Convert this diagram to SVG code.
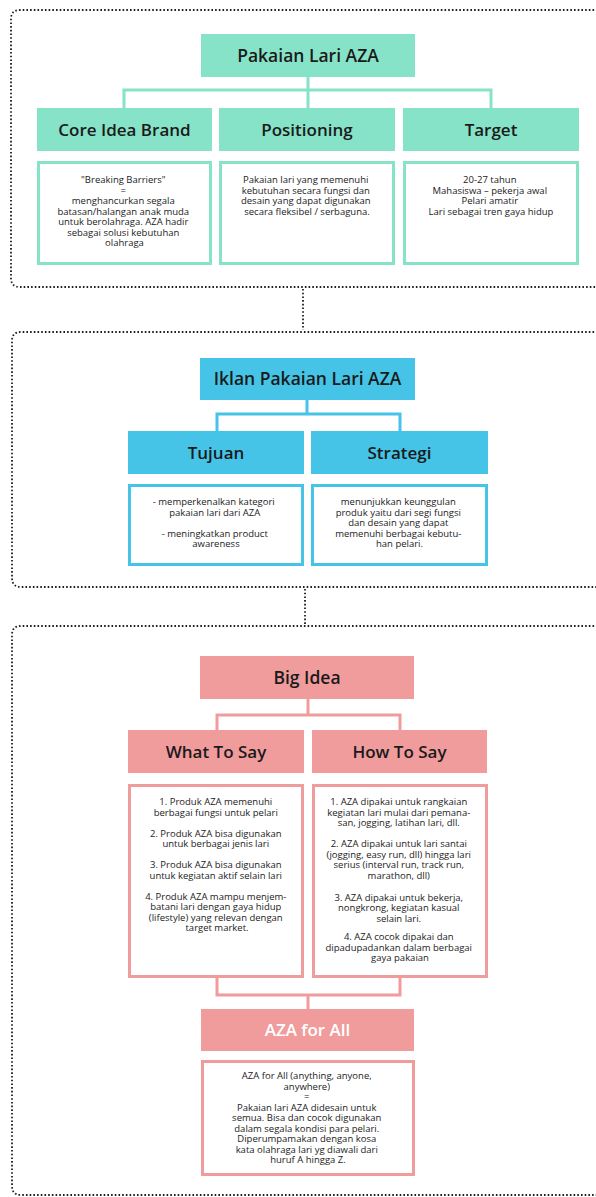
<svg xmlns="http://www.w3.org/2000/svg" width="596" height="1197" viewBox="0 0 596 1197">
  <style>
    .frame { fill: none; stroke: #1e1e1e; stroke-width: 1.8; stroke-dasharray: 1.6 2.1; }
    .mint { fill: #86e3c8; }
    .blue { fill: #45c4e7; }
    .pink { fill: #f19c9c; }
    .box-mint { fill: #fff; stroke: #86e3c8; stroke-width: 3; }
    .box-blue { fill: #fff; stroke: #45c4e7; stroke-width: 3; }
    .box-pink { fill: #fff; stroke: #f19c9c; stroke-width: 3; }
    .ln-mint { fill: none; stroke: #86e3c8; stroke-width: 3; }
    .ln-blue { fill: none; stroke: #45c4e7; stroke-width: 3; }
    .ln-pink { fill: none; stroke: #f19c9c; stroke-width: 3; }
    .head { font-family: "Open Sans", "Liberation Sans", sans-serif; font-weight: 600; font-size: 17px; fill: #1a1a1a; text-anchor: middle; }
    .title { font-size: 17.5px; }
    .light { fill: #ffffff; }
    .body { font-family: "Open Sans", "Liberation Sans", sans-serif; font-weight: 500; font-size: 9.5px; fill: #222; text-anchor: middle; }
  </style>

  <!-- dotted section frames, open on the right side -->
  <g id="frames">
    <path class="frame" d="M 620 10 H 20 Q 11 10 11 19 V 278 Q 11 287 20 287 H 620"/>
    <path class="frame" d="M 620 332 H 21 Q 12 332 12 341 V 578 Q 12 587 21 587 H 620"/>
    <path class="frame" d="M 620 626 H 21 Q 12 626 12 635 V 1186 Q 12 1195 21 1195 H 620"/>
    <path class="frame" d="M 303 289 V 330"/>
    <path class="frame" d="M 305 589 V 624"/>
  </g>

  <!-- connectors -->
  <g id="connectors">
    <path class="ln-mint" d="M 308 77 V 90 M 124 108 V 90 H 491 V 108 M 308 90 V 108"/>
    <path class="ln-blue" d="M 307 400 V 414 M 217 431 V 414 H 400 V 431"/>
    <path class="ln-pink" d="M 308 699 V 715 M 217 730 V 715 H 400 V 730"/>
    <path class="ln-pink" d="M 217 978 V 995 H 400 V 978 M 308 995 V 1009"/>
  </g>

  <!-- section 1 -->
  <g id="pakaian-lari-aza">
    <rect class="mint" x="201" y="34" width="214" height="43"/>
    <text class="head title" x="308" y="61.5">Pakaian Lari AZA</text>
  </g>
  <g id="core-idea-brand">
    <rect class="mint" x="37" y="108" width="175" height="43"/>
    <text class="head" x="124.5" y="135.5">Core Idea Brand</text>
  </g>
  <g id="positioning">
    <rect class="mint" x="219" y="108" width="176" height="43"/>
    <text class="head" x="307" y="135.5">Positioning</text>
  </g>
  <g id="target">
    <rect class="mint" x="403" y="108" width="176" height="43"/>
    <text class="head" x="491" y="135.5">Target</text>
  </g>
  <g id="core-idea-text">
    <rect class="box-mint" x="38.5" y="162.5" width="172" height="101"/>
    <text class="body" x="124.5">
      <tspan x="124.5" y="183">"Breaking Barriers"</tspan>
      <tspan x="124.5" y="193.5">=</tspan>
      <tspan x="124.5" y="204">menghancurkan segala</tspan>
      <tspan x="124.5" y="214.5">batasan/halangan anak muda</tspan>
      <tspan x="124.5" y="225">untuk berolahraga. AZA hadir</tspan>
      <tspan x="124.5" y="235.5">sebagai solusi kebutuhan</tspan>
      <tspan x="124.5" y="246">olahraga</tspan>
    </text>
  </g>
  <g id="positioning-text">
    <rect class="box-mint" x="220.5" y="162.5" width="173" height="101"/>
    <text class="body">
      <tspan x="307" y="183">Pakaian lari yang memenuhi</tspan>
      <tspan x="307" y="193.5">kebutuhan secara fungsi dan</tspan>
      <tspan x="307" y="204">desain yang dapat digunakan</tspan>
      <tspan x="307" y="214.5">secara fleksibel / serbaguna.</tspan>
    </text>
  </g>
  <g id="target-text">
    <rect class="box-mint" x="404.5" y="162.5" width="173" height="101"/>
    <text class="body">
      <tspan x="491" y="183">20-27 tahun</tspan>
      <tspan x="491" y="193.5">Mahasiswa – pekerja awal</tspan>
      <tspan x="491" y="204">Pelari amatir</tspan>
      <tspan x="491" y="214.5">Lari sebagai tren gaya hidup</tspan>
    </text>
  </g>

  <!-- section 2 -->
  <g id="iklan-pakaian-lari-aza">
    <rect class="blue" x="200" y="358" width="215" height="42"/>
    <text class="head title" x="307.5" y="385">Iklan Pakaian Lari AZA</text>
  </g>
  <g id="tujuan">
    <rect class="blue" x="128" y="431" width="176" height="43"/>
    <text class="head" x="216" y="458.5">Tujuan</text>
  </g>
  <g id="strategi">
    <rect class="blue" x="311" y="431" width="177" height="43"/>
    <text class="head" x="399.5" y="458.5">Strategi</text>
  </g>
  <g id="tujuan-text">
    <rect class="box-blue" x="129.5" y="485.5" width="173" height="79"/>
    <text class="body">
      <tspan x="215" y="505">- memperkenalkan kategori</tspan>
      <tspan x="216" y="515.5">pakaian lari dari AZA</tspan>
      <tspan x="216" y="536.5">- meningkatkan product</tspan>
      <tspan x="216" y="547">awareness</tspan>
    </text>
  </g>
  <g id="strategi-text">
    <rect class="box-blue" x="312.5" y="485.5" width="174" height="79"/>
    <text class="body">
      <tspan x="399.5" y="505">menunjukkan keunggulan</tspan>
      <tspan x="399.5" y="515.5">produk yaitu dari segi fungsi</tspan>
      <tspan x="399.5" y="526">dan desain yang dapat</tspan>
      <tspan x="399.5" y="536.5">memenuhi berbagai kebutu-</tspan>
      <tspan x="399.5" y="547">han pelari.</tspan>
    </text>
  </g>

  <!-- section 3 -->
  <g id="big-idea">
    <rect class="pink" x="200" y="656" width="214" height="43"/>
    <text class="head title" x="307" y="683.5">Big Idea</text>
  </g>
  <g id="what-to-say">
    <rect class="pink" x="128" y="730" width="176" height="43"/>
    <text class="head" x="216" y="757.5">What To Say</text>
  </g>
  <g id="how-to-say">
    <rect class="pink" x="312" y="730" width="175" height="43"/>
    <text class="head" x="399.5" y="757.5">How To Say</text>
  </g>
  <g id="what-to-say-text">
    <rect class="box-pink" x="129.5" y="785.5" width="173" height="191"/>
    <text class="body">
      <tspan x="217" y="805">1. Produk AZA  memenuhi</tspan>
      <tspan x="217" y="815.5">berbagai fungsi untuk pelari</tspan>
      <tspan x="217" y="836.5">2. Produk AZA bisa digunakan</tspan>
      <tspan x="217" y="847">untuk berbagai jenis lari</tspan>
      <tspan x="217" y="868">3. Produk AZA bisa digunakan</tspan>
      <tspan x="217" y="878.5">untuk kegiatan aktif selain lari</tspan>
      <tspan x="217" y="899.5">4. Produk AZA mampu menjem-</tspan>
      <tspan x="217" y="910">batani lari dengan gaya hidup</tspan>
      <tspan x="217" y="920.5">(lifestyle) yang relevan dengan</tspan>
      <tspan x="217" y="931">target market.</tspan>
    </text>
  </g>
  <g id="how-to-say-text">
    <rect class="box-pink" x="313.5" y="785.5" width="173" height="191"/>
    <text class="body">
      <tspan x="400" y="805">1. AZA dipakai untuk rangkaian</tspan>
      <tspan x="400" y="815.5">kegiatan lari mulai dari pemana-</tspan>
      <tspan x="400" y="826">san, jogging, latihan lari, dll.</tspan>
      <tspan x="400" y="847">2. AZA dipakai untuk lari santai</tspan>
      <tspan x="400" y="857.5">(jogging, easy run, dll) hingga lari</tspan>
      <tspan x="400" y="868">serius (interval run, track run,</tspan>
      <tspan x="400" y="878.5">marathon, dll)</tspan>
      <tspan x="400" y="900.5">3. AZA dipakai untuk bekerja,</tspan>
      <tspan x="400" y="911">nongkrong, kegiatan kasual</tspan>
      <tspan x="400" y="921.5">selain lari.</tspan>
      <tspan x="400" y="940">4. AZA cocok dipakai dan</tspan>
      <tspan x="400" y="950.5">dipadupadankan dalam berbagai</tspan>
      <tspan x="400" y="961">gaya pakaian</tspan>
    </text>
  </g>
  <g id="aza-for-all">
    <rect class="pink" x="201" y="1009" width="213" height="42"/>
    <text class="head light" x="307.5" y="1036">AZA for All</text>
  </g>
  <g id="aza-for-all-text">
    <rect class="box-pink" x="202.5" y="1061.5" width="211" height="113"/>
    <text class="body">
      <tspan x="308" y="1079">AZA for All (anything, anyone,</tspan>
      <tspan x="308" y="1089.5">anywhere)</tspan>
      <tspan x="308" y="1100">=</tspan>
      <tspan x="308" y="1110.5">Pakaian lari AZA didesain untuk</tspan>
      <tspan x="308" y="1121">semua. Bisa dan cocok digunakan</tspan>
      <tspan x="308" y="1131.5">dalam segala kondisi para pelari.</tspan>
      <tspan x="308" y="1142">Diperumpamakan dengan kosa</tspan>
      <tspan x="308" y="1152.5">kata olahraga lari yg diawali dari</tspan>
      <tspan x="308" y="1163">huruf A hingga Z.</tspan>
    </text>
  </g>
</svg>
